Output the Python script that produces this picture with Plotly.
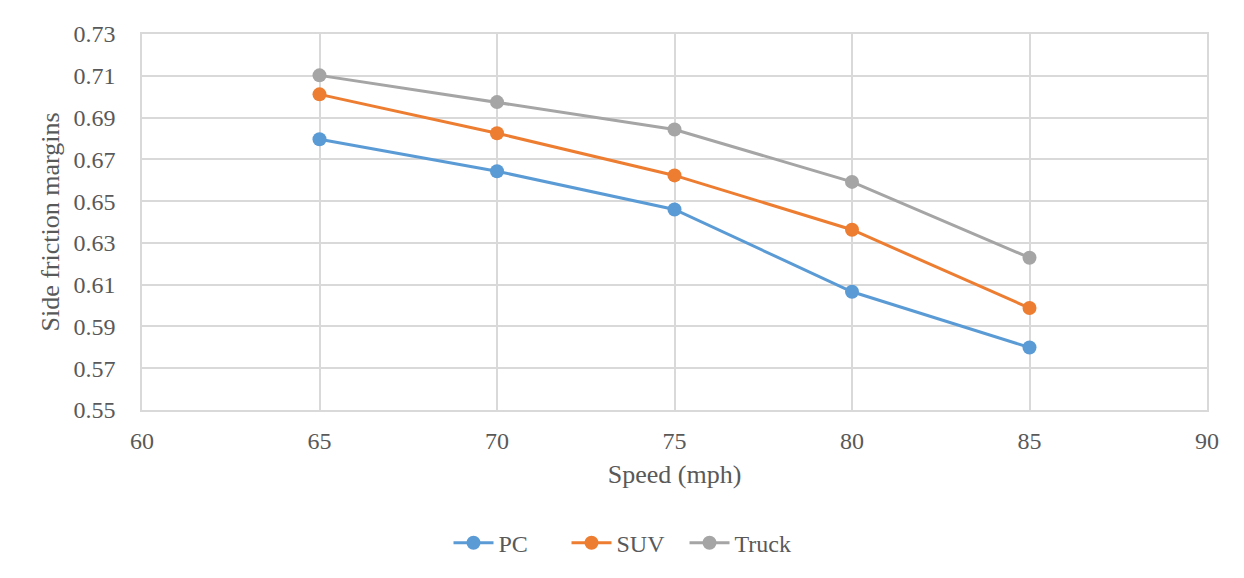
import plotly.graph_objects as go

# velocidades (mph) e margens de atrito lateral
speed = [65, 70, 75, 80, 85]
pc = [0.6796, 0.6643, 0.6460, 0.6066, 0.5799]
suv = [0.7011, 0.6825, 0.6623, 0.6363, 0.5988]
truck = [0.7102, 0.6974, 0.6843, 0.6592, 0.6229]

series = [("PC", pc, "#5B9BD5"), ("SUV", suv, "#ED7D31"), ("Truck", truck, "#A5A5A5")]

fig = go.Figure()
for nome, vals, cor in series:
    fig.add_trace(go.Scatter(
        x=speed, y=vals, name=nome, mode="lines+markers",
        line=dict(color=cor, width=3),
        marker=dict(color=cor, size=14)
    ))

grid = "#D9D9D9"
fonte = dict(family="Liberation Serif, Times New Roman, serif", size=24, color="#595959")
fonte_tit = dict(family="Liberation Serif, Times New Roman, serif", size=26, color="#595959")

# a pagina tem margem de 8px no body, por isso a figura e menor
fig.update_layout(
    width=1236, height=570,
    margin=dict(l=134, r=37, t=26, b=168),
    paper_bgcolor="white", plot_bgcolor="white",
    font=fonte,
    showlegend=True,
    legend=dict(orientation="h", x=0.454, xanchor="center", y=-0.354, yanchor="middle",
                font=fonte, itemwidth=40, entrywidth=63, entrywidthmode="pixels"),
    # so as bordas esquerda e de cima aparecem
    shapes=[dict(type="rect", xref="paper", yref="paper",
                 x0=-0.1268, x1=1.2, y0=-0.6, y1=1.0745,
                 line=dict(color=grid, width=1.5), layer="below")]
)
fig.update_xaxes(
    range=[60, 90], dtick=5, tick0=60,
    showgrid=True, gridcolor=grid, gridwidth=1.5,
    showline=True, linecolor=grid, linewidth=1.5, mirror=True,
    zeroline=False, ticks="", ticklabelstandoff=8,
    title=dict(text="Speed (mph)", font=fonte_tit, standoff=12)
)
fig.update_yaxes(
    range=[0.55, 0.73], dtick=0.02, tick0=0.55, tickformat=".2f",
    showgrid=True, gridcolor=grid, gridwidth=1.5,
    showline=True, linecolor=grid, linewidth=1.5, mirror=True,
    zeroline=False, ticks="", ticklabelstandoff=20,
    title=dict(text="Side friction margins", font=fonte_tit, standoff=6)
)

fig.write_html("out.html")
